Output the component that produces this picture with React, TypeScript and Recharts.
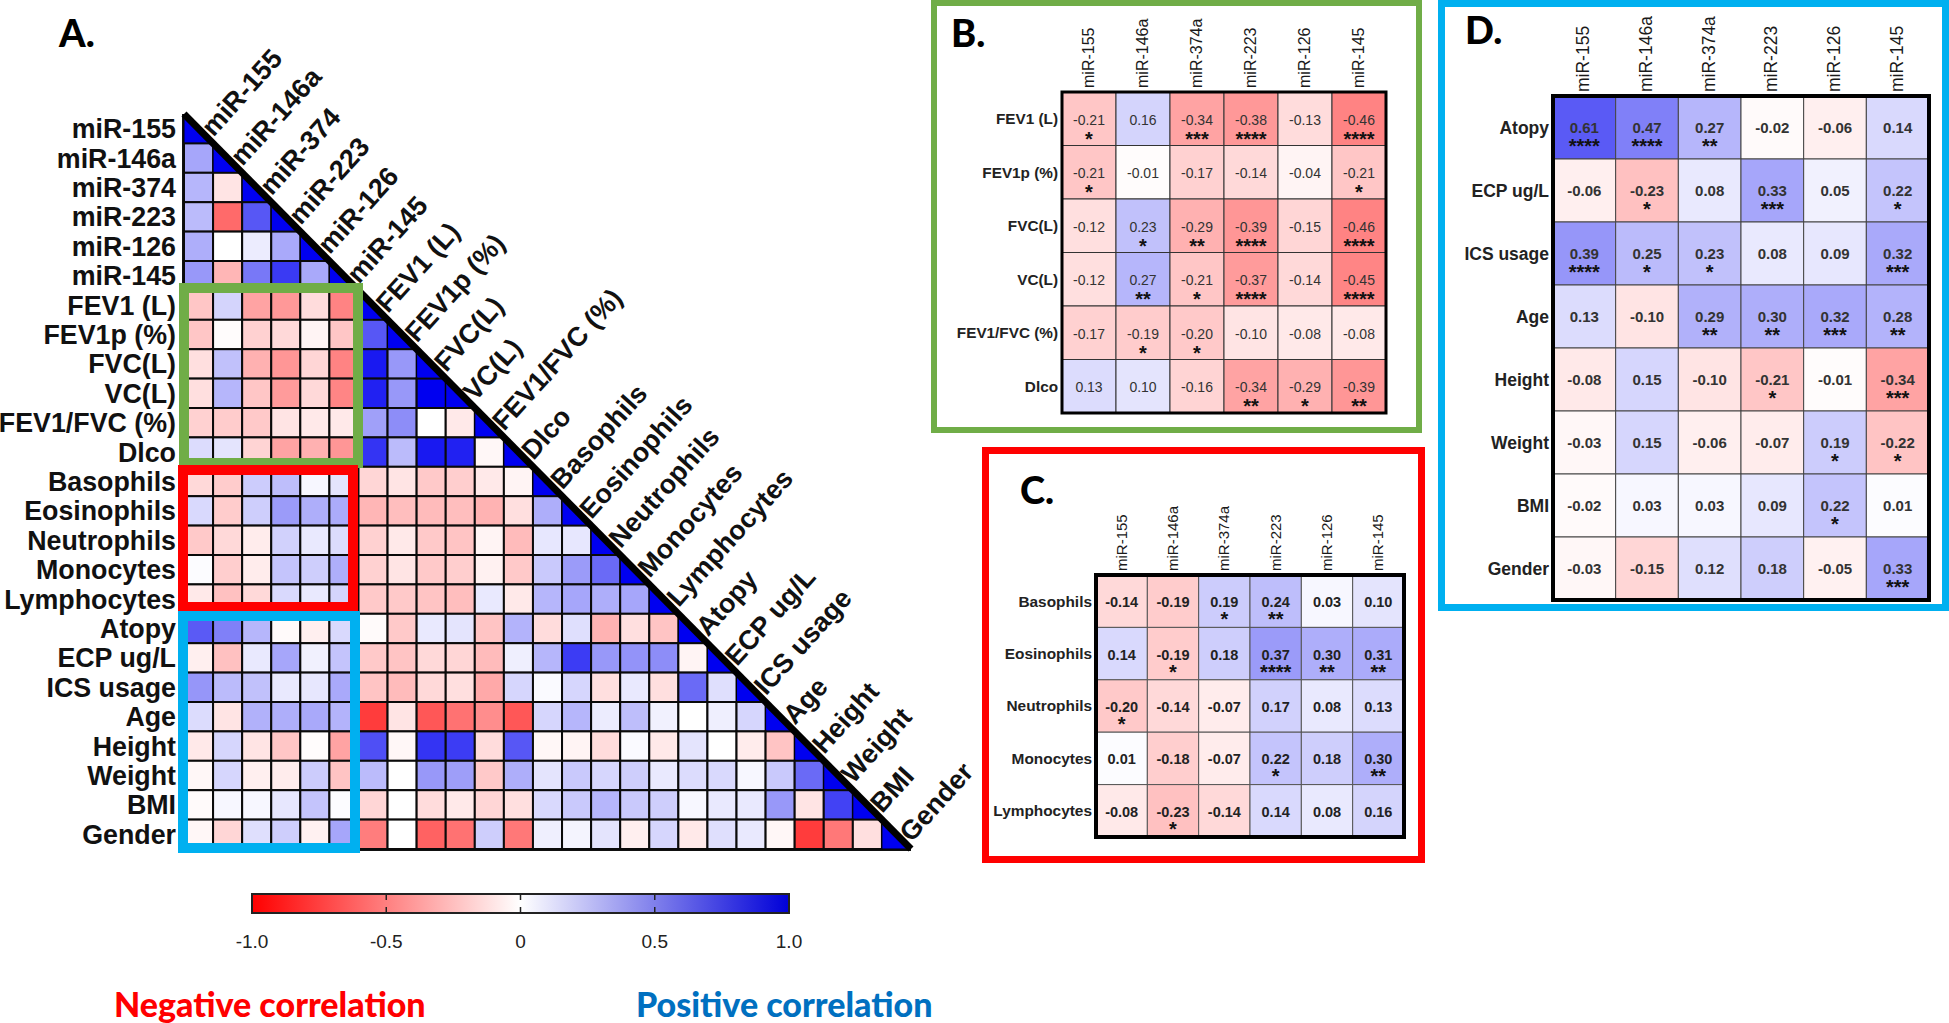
import React from 'react';
import {
  ScatterChart, Scatter, XAxis, YAxis, ReferenceLine, ReferenceArea
} from 'recharts';

const ARIAL = '"Liberation Sans", Arial, sans-serif';
const CALIBRI = 'Lato, "Open Sans", sans-serif';

const allLabels = [
  'miR-155', 'miR-146a', 'miR-374', 'miR-223', 'miR-126', 'miR-145',
  'FEV1 (L)', 'FEV1p (%)', 'FVC(L)', 'VC(L)', 'FEV1/FVC (%)', 'Dlco',
  'Basophils', 'Eosinophils', 'Neutrophils', 'Monocytes', 'Lymphocytes',
  'Atopy', 'ECP ug/L', 'ICS usage', 'Age', 'Height', 'Weight', 'BMI', 'Gender',
];

// lower triangle of panel A, one row per variable
const allCorr = [
  [1],
  [0.33, 1],
  [0.27, -0.10, 1],
  [0.25, -0.55, 0.62, 1],
  [0.30, 0, 0.07, 0.32, 1],
  [0.38, -0.27, 0.50, 0.73, 0.32, 1],
  [-0.21, 0.16, -0.34, -0.38, -0.13, -0.46, 1],
  [-0.21, -0.01, -0.17, -0.14, -0.04, -0.21, 0.62, 1],
  [-0.12, 0.23, -0.29, -0.39, -0.15, -0.46, 0.85, 0.38, 1],
  [-0.12, 0.27, -0.21, -0.37, -0.14, -0.45, 0.82, 0.38, 0.95, 1],
  [-0.17, -0.19, -0.20, -0.10, -0.08, -0.08, 0.35, 0.42, 0, -0.08, 1],
  [0.13, 0.10, -0.16, -0.34, -0.29, -0.39, 0.75, 0.25, 0.85, 0.82, -0.03, 1],
  [-0.14, -0.19, 0.19, 0.24, 0.03, 0.10, -0.15, -0.10, -0.20, -0.18, -0.08, -0.04, 1],
  [0.14, -0.19, 0.18, 0.37, 0.30, 0.31, -0.27, -0.24, -0.25, -0.24, -0.28, -0.12, 0.30, 1],
  [-0.20, -0.14, -0.07, 0.17, 0.08, 0.13, -0.17, -0.08, -0.20, -0.22, -0.04, -0.25, 0.09, 0.09, 1],
  [0.01, -0.18, -0.07, 0.22, 0.18, 0.30, -0.17, -0.10, -0.20, -0.18, -0.05, -0.20, 0.20, 0.37, 0.55, 1],
  [-0.08, -0.23, -0.14, 0.14, 0.08, 0.16, -0.20, -0.20, -0.22, -0.24, 0.08, -0.08, 0.27, 0.33, 0.30, 0.33, 1],
  [0.61, 0.47, 0.27, -0.02, -0.06, 0.14, -0.02, -0.20, 0.08, 0.10, -0.22, 0.28, -0.13, 0.12, -0.28, -0.12, -0.22, 1],
  [-0.06, -0.23, 0.08, 0.33, 0.05, 0.22, -0.20, -0.22, -0.14, -0.15, -0.25, 0.06, 0.27, 0.72, 0.38, 0.40, 0.42, -0.04, 1],
  [0.39, 0.25, 0.23, 0.08, 0.09, 0.32, -0.22, -0.25, -0.14, -0.12, -0.32, 0.15, 0.02, 0.15, -0.12, 0.08, -0.12, 0.55, 0.12, 1],
  [0.13, -0.10, 0.29, 0.30, 0.32, 0.28, -0.72, -0.10, -0.62, -0.52, -0.42, -0.62, 0.15, 0.27, 0.07, 0.24, 0.05, 0, 0.06, 0.15, 1],
  [-0.08, 0.15, -0.10, -0.21, -0.01, -0.34, 0.65, -0.03, 0.75, 0.72, -0.13, 0.62, -0.03, -0.04, -0.13, 0.02, -0.08, 0.10, 0, -0.07, -0.22, 1],
  [-0.03, 0.15, -0.06, -0.07, 0.19, -0.22, 0.25, 0, 0.38, 0.36, -0.20, 0.30, 0.10, 0.20, 0.15, 0.18, 0.08, 0.13, 0.14, 0.03, 0.20, 0.55, 1],
  [-0.02, 0.03, 0.03, 0.09, 0.22, 0.01, -0.15, 0, -0.13, -0.08, -0.15, -0.12, 0.14, 0.20, 0.27, 0.20, 0.18, 0.03, 0.08, 0.08, 0.38, -0.10, 0.70, 1],
  [-0.03, -0.15, 0.12, 0.18, -0.05, 0.33, -0.48, 0, -0.58, -0.52, 0.18, -0.50, 0.06, 0.04, 0.10, -0.06, 0.15, -0.08, 0.12, 0.08, -0.03, -0.72, -0.50, -0.12, 1],
];

const panelCols = ['miR-155', 'miR-146a', 'miR-374a', 'miR-223', 'miR-126', 'miR-145'];

const lungRows = ['FEV1 (L)', 'FEV1p (%)', 'FVC(L)', 'VC(L)', 'FEV1/FVC (%)', 'Dlco'];
const lungCorr = [
  [-0.21, 0.16, -0.34, -0.38, -0.13, -0.46],
  [-0.21, -0.01, -0.17, -0.14, -0.04, -0.21],
  [-0.12, 0.23, -0.29, -0.39, -0.15, -0.46],
  [-0.12, 0.27, -0.21, -0.37, -0.14, -0.45],
  [-0.17, -0.19, -0.20, -0.10, -0.08, -0.08],
  [0.13, 0.10, -0.16, -0.34, -0.29, -0.39],
];
const lungStars = [
  [1, 0, 3, 4, 0, 4],
  [1, 0, 0, 0, 0, 1],
  [0, 1, 2, 4, 0, 4],
  [0, 2, 1, 4, 0, 4],
  [0, 1, 1, 0, 0, 0],
  [0, 0, 0, 2, 1, 2],
];

const cellRows = ['Basophils', 'Eosinophils', 'Neutrophils', 'Monocytes', 'Lymphocytes'];
const cellCorr = [
  [-0.14, -0.19, 0.19, 0.24, 0.03, 0.10],
  [0.14, -0.19, 0.18, 0.37, 0.30, 0.31],
  [-0.20, -0.14, -0.07, 0.17, 0.08, 0.13],
  [0.01, -0.18, -0.07, 0.22, 0.18, 0.30],
  [-0.08, -0.23, -0.14, 0.14, 0.08, 0.16],
];
const cellStars = [
  [0, 0, 1, 2, 0, 0],
  [0, 1, 0, 4, 2, 2],
  [1, 0, 0, 0, 0, 0],
  [0, 0, 0, 1, 0, 2],
  [0, 1, 0, 0, 0, 0],
];

const clinRows = ['Atopy', 'ECP ug/L', 'ICS usage', 'Age', 'Height', 'Weight', 'BMI', 'Gender'];
const clinCorr = [
  [0.61, 0.47, 0.27, -0.02, -0.06, 0.14],
  [-0.06, -0.23, 0.08, 0.33, 0.05, 0.22],
  [0.39, 0.25, 0.23, 0.08, 0.09, 0.32],
  [0.13, -0.10, 0.29, 0.30, 0.32, 0.28],
  [-0.08, 0.15, -0.10, -0.21, -0.01, -0.34],
  [-0.03, 0.15, -0.06, -0.07, 0.19, -0.22],
  [-0.02, 0.03, 0.03, 0.09, 0.22, 0.01],
  [-0.03, -0.15, 0.12, 0.18, -0.05, 0.33],
];
const clinStars = [
  [4, 4, 2, 0, 0, 0],
  [0, 1, 0, 3, 0, 1],
  [4, 1, 1, 0, 0, 3],
  [0, 0, 2, 2, 3, 2],
  [0, 0, 0, 1, 0, 3],
  [0, 0, 0, 0, 1, 1],
  [0, 0, 0, 0, 1, 0],
  [0, 0, 0, 0, 0, 3],
];

const scaleTicks = [-1, -0.5, 0, 0.5, 1];
const scaleInnerTicks = [-0.5, 0, 0.5];

function corrColor(v: number) {
  const t = Math.min(1, Math.abs(v) * 1.06);
  const c = Math.round(255 * (1 - t));
  if (v >= 0) return `rgb(${c},${c},${Math.round(255 - 15 * t)})`;
  return `rgb(255,${c},${c})`;
}

function toCells(values: number[][], stars?: number[][]) {
  return values.flatMap((row, r) =>
    row.map((v, c) => ({ col: c, row: r, v, stars: stars ? stars[r][c] : 0 }))
  );
}

const range = (n: number) => Array.from({ length: n }, (_, i) => i);

// panel A geometry
const A_W = 1000;
const A_H = 880;
const A_LEFT = 184;
const A_TOP = 114;
const A_RIGHT = 911;
const A_BOTTOM = 849;
const A_CW = (A_RIGHT - A_LEFT) / 25;
const A_CH = (A_BOTTOM - A_TOP) / 25;

const TriangleCell = (p: any) => {
  const { cx, cy, payload } = p;
  const x = cx - A_CW / 2;
  const y = cy - A_CH / 2;
  if (payload.col === payload.row) {
    return <polygon points={`${x},${y} ${x},${y + A_CH} ${x + A_CW},${y + A_CH}`} fill="#0000f0" stroke="#000" strokeWidth={1} />;
  }
  return <rect x={x} y={y} width={A_CW} height={A_CH} fill={corrColor(payload.v)} stroke="#0a0a0a" strokeWidth={2} />;
};

const DiagonalTick = (p: any) => {
  const i = p.payload.value;
  const x = p.x + 15;
  const y = A_TOP + (i + 0.5) * A_CH + 9;
  return (
    <text x={x} y={y} transform={`rotate(-48 ${x} ${y})`} fontFamily={ARIAL} fontWeight={700} fontSize={27} fill="#111">
      {allLabels[i]}
    </text>
  );
};

function TriangleMatrix() {
  const n = allLabels.length;
  return (
    <div style={{ position: 'absolute', left: 0, top: 0 }}>
      <ScatterChart width={A_W} height={A_H} margin={{ top: A_TOP, right: A_W - A_RIGHT, bottom: 0, left: 0 }} style={{ overflow: 'visible' }}>
        <XAxis
          type="number" dataKey="col" domain={[-0.5, n - 0.5]} ticks={range(n)} interval={0}
          height={A_H - A_BOTTOM} tickLine={false} tick={DiagonalTick}
          axisLine={{ stroke: '#111', strokeWidth: 4 }}
        />
        <YAxis
          type="number" dataKey="row" reversed domain={[-0.5, n - 0.5]} ticks={range(n)} interval={0}
          width={A_LEFT} tickLine={false} tickSize={0} tickMargin={8}
          tickFormatter={(i: number) => allLabels[i]}
          tick={{ fontFamily: ARIAL, fontWeight: 700, fontSize: 26.8, fill: '#111' }}
          axisLine={{ stroke: '#111', strokeWidth: 4 }}
        />
        <Scatter data={toCells(allCorr)} shape={TriangleCell} isAnimationActive={false} />
        <ReferenceLine
          segment={[{ x: -0.5, y: -0.5 }, { x: n - 0.5, y: n - 0.5 }]}
          stroke="#000" strokeWidth={7} ifOverflow="visible" zIndex={700}
        />
      </ScatterChart>
    </div>
  );
}

type HeatProps = {
  rows: string[];
  cols: string[];
  values: number[][];
  stars: number[][];
  left: number;
  top: number;
  plotW: number;
  plotH: number;
  valueSize: number;
  valueWeight: number;
  valueFill: string;
  valueDrop: number;
  grid: string;
  border: number;
  starDrop: number;
  colSize: number;
  rowSize: number;
};

function HeatPanel({ rows, cols, values, stars, left, top, plotW, plotH, valueSize, valueWeight, valueFill, valueDrop, grid, border, starDrop, colSize, rowSize }: HeatProps) {
  const labelW = 160;
  const headH = 90;
  const cw = plotW / cols.length;
  const ch = plotH / rows.length;

  const shape = (p: any) => {
    const { cx, cy, payload } = p;
    return (
      <g>
        <rect x={cx - cw / 2} y={cy - ch / 2} width={cw} height={ch} fill={corrColor(payload.v)} stroke={grid} strokeWidth={1} />
        <text x={cx} y={cy + valueDrop} textAnchor="middle" fontFamily={ARIAL} fontSize={valueSize} fontWeight={valueWeight} fill={valueFill}>
          {payload.v.toFixed(2)}
        </text>
        {payload.stars > 0 && (
          <text x={cx} y={cy + starDrop} textAnchor="middle" fontFamily={ARIAL} fontSize={20} fontWeight={700} fill="#111">
            {'*'.repeat(payload.stars)}
          </text>
        )}
      </g>
    );
  };

  const colTick = (p: any) => {
    const x = p.x + 5;
    const y = headH - 4;
    return (
      <text x={x} y={y} transform={`rotate(-90 ${x} ${y})`} fontFamily={ARIAL} fontSize={colSize} fill="#1a1a1a">
        {cols[p.payload.value]}
      </text>
    );
  };

  return (
    <div style={{ position: 'absolute', left: left - labelW, top: top - headH }}>
      <ScatterChart width={labelW + plotW + 8} height={headH + plotH + 8} margin={{ top: 0, right: 8, bottom: 8, left: 0 }} style={{ overflow: 'visible' }}>
        <XAxis
          type="number" dataKey="col" orientation="top" domain={[-0.5, cols.length - 0.5]} ticks={range(cols.length)} interval={0}
          height={headH} axisLine={false} tickLine={false} tick={colTick}
        />
        <YAxis
          type="number" dataKey="row" reversed domain={[-0.5, rows.length - 0.5]} ticks={range(rows.length)} interval={0}
          width={labelW} axisLine={false} tickLine={false} tickSize={0} tickMargin={4}
          tickFormatter={(i: number) => rows[i]}
          tick={{ fontFamily: ARIAL, fontWeight: 700, fontSize: rowSize, fill: '#222' }}
        />
        <Scatter data={toCells(values, stars)} shape={shape} isAnimationActive={false} />
        <ReferenceArea
          x1={-0.5} x2={cols.length - 0.5} y1={-0.5} y2={rows.length - 0.5}
          fill="none" fillOpacity={0} stroke="#000" strokeWidth={border} strokeOpacity={1} ifOverflow="visible" zIndex={700}
        />
      </ScatterChart>
    </div>
  );
}

// the ramp has no marks of its own, the scatter only carries the axis domain
function ScaleBar() {
  return (
    <div style={{ position: 'absolute', left: 200, top: 880 }}>
      <ScatterChart width={640} height={90} margin={{ top: 14, right: 51, bottom: 0, left: 52 }} style={{ overflow: 'visible' }}>
        <defs>
          <linearGradient id="corrRamp" x1="0" x2="1" y1="0" y2="0">
            <stop offset="0%" stopColor="#ff0000" />
            <stop offset="50%" stopColor="#ffffff" />
            <stop offset="100%" stopColor="#0000d8" />
          </linearGradient>
        </defs>
        <XAxis
          type="number" dataKey="x" domain={[-1, 1]} ticks={scaleTicks} interval={0} height={57}
          axisLine={false} tickLine={false} tickSize={0} tickMargin={22}
          tickFormatter={(v: number) => (v === 0 ? '0' : v.toFixed(1))}
          tick={{ fontFamily: ARIAL, fontSize: 19, fill: '#222' }}
        />
        <YAxis type="number" dataKey="y" domain={[0, 1]} hide />
        <Scatter data={scaleTicks.map(x => ({ x, y: 0.5 }))} shape={() => <g />} isAnimationActive={false} />
        <ReferenceArea x1={-1} x2={1} y1={0} y2={1} fill="url(#corrRamp)" fillOpacity={1} stroke="#222" strokeWidth={2} strokeOpacity={1} ifOverflow="visible" />
        {scaleInnerTicks.map(t => (
          <ReferenceLine key={t} x={t} stroke="#222" strokeWidth={1.5} strokeDasharray="6 7 6" />
        ))}
      </ScatterChart>
    </div>
  );
}

const frameBoxes = [
  { x0: 179, y0: 283, x1: 363, y1: 468, w: 10, color: '#70ad47' },
  { x0: 178, y0: 465, x1: 358, y1: 612, w: 10, color: '#ff0000' },
  { x0: 178, y0: 611, x1: 360, y1: 853, w: 10, color: '#00b0f0' },
  { x0: 931, y0: 0, x1: 1422, y1: 433, w: 6, color: '#70ad47' },
  { x0: 982, y0: 447, x1: 1425, y1: 863, w: 7, color: '#ff0000' },
  { x0: 1438, y0: 0, x1: 1949, y1: 611, w: 7, color: '#00b0f0' },
];

const panelLetters = [
  { t: 'A.', x: 59, y: 47 },
  { t: 'B.', x: 951, y: 47 },
  { t: 'C.', x: 1020, y: 504 },
  { t: 'D.', x: 1465, y: 44 },
];

function Overlay() {
  return (
    <svg width={1949} height={1023} style={{ position: 'absolute', left: 0, top: 0, pointerEvents: 'none' }}>
      {frameBoxes.map((b, i) => (
        <rect key={i} x={b.x0 + b.w / 2} y={b.y0 + b.w / 2} width={b.x1 - b.x0 - b.w} height={b.y1 - b.y0 - b.w} fill="none" stroke={b.color} strokeWidth={b.w} />
      ))}
      {panelLetters.map(l => (
        <text key={l.t} x={l.x} y={l.y} fontFamily={CALIBRI} fontWeight={900} fontSize={38} fill="#000">{l.t}</text>
      ))}
      <text x={114} y={1017} fontFamily={CALIBRI} fontWeight={900} fontSize={34} fill="#ff0000">Negative correlation</text>
      <text x={636} y={1017} fontFamily={CALIBRI} fontWeight={900} fontSize={34} fill="#0070c0">Positive correlation</text>
    </svg>
  );
}

export default function App() {
  return (
    <div style={{ position: 'absolute', left: 0, top: 0, width: 1949, height: 1023, background: '#fff', overflow: 'hidden' }}>
      <TriangleMatrix />
      <HeatPanel rows={lungRows} cols={panelCols} values={lungCorr} stars={lungStars} left={1062} top={92} plotW={324} plotH={321} valueSize={14} valueWeight={400} valueFill="#333" valueDrop={6} grid="#333" border={3} starDrop={27} colSize={16} rowSize={15.3} />
      <HeatPanel rows={cellRows} cols={panelCols} values={cellCorr} stars={cellStars} left={1096} top={575} plotW={308} plotH={262} valueSize={14.5} valueWeight={700} valueFill="#222" valueDrop={6} grid="#555" border={4} starDrop={25} colSize={15} rowSize={15.4} />
      <HeatPanel rows={clinRows} cols={panelCols} values={clinCorr} stars={clinStars} left={1553} top={96} plotW={376} plotH={504} valueSize={15} valueWeight={700} valueFill="#333" valueDrop={5} grid="#444" border={4} starDrop={25} colSize={17.5} rowSize={17.5} />
      <ScaleBar />
      <Overlay />
    </div>
  );
}
